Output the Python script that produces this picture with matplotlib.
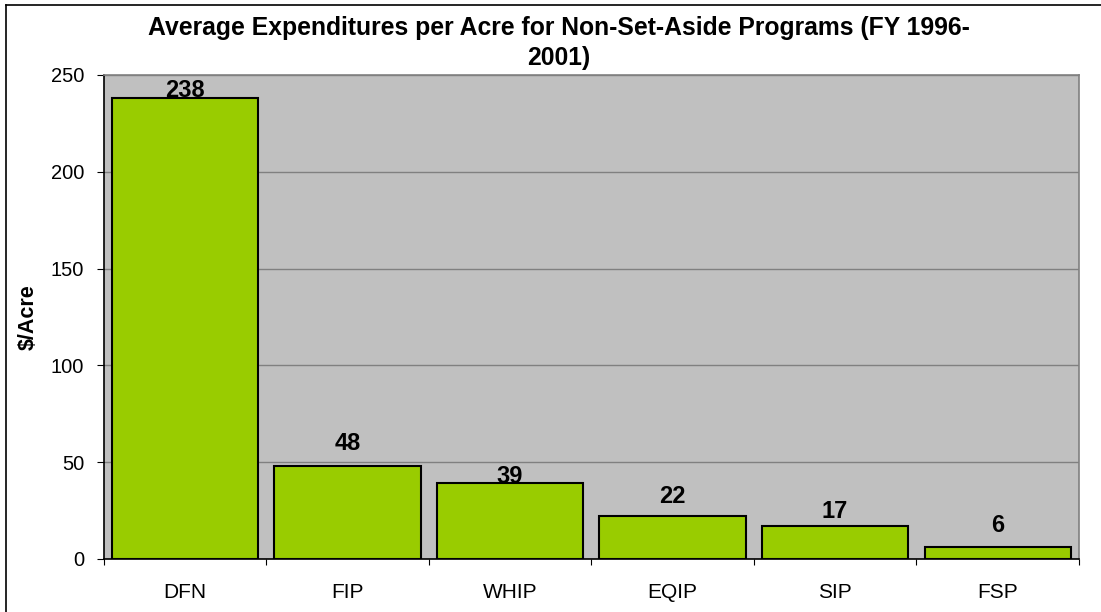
import matplotlib
matplotlib.use("Agg")
import matplotlib.pyplot as plt
from matplotlib.lines import Line2D
import numpy as np

plt.rcParams["font.family"] = ["Liberation Sans", "DejaVu Sans"]

# ── data ───────────────────────────────────────────────────────
programs = ["DFN", "FIP", "WHIP", "EQIP", "SIP", "FSP"]
cost_per_acre = [238, 48, 39, 22, 17, 6]
yticks = [0, 50, 100, 150, 200, 250]

# label gap above each bar (points) - mimics the Excel placement
label_gap = [0.7, 11.5, 0.0, 10.0, 5.8, 10.8]

BAR = "#99CC00"
PLOT_BG = "#C0C0C0"
GRID = "#808080"

fig = plt.figure(figsize=(11.01, 6.12), dpi=100)
fig.patch.set_facecolor("white")
ax = fig.add_axes([103.5 / 1101, 1 - 559 / 612, 975.5 / 1101, 484 / 612])
ax.set_facecolor(PLOT_BG)

x = np.arange(len(programs))
ax.bar(x, cost_per_acre, width=0.9, color=BAR, edgecolor="black",
       linewidth=1.5, zorder=3)

for xi, v, g in zip(x, cost_per_acre, label_gap):
    ax.annotate(str(v), (xi, v), xytext=(0, g), textcoords="offset points",
                ha="center", va="baseline", fontsize=17, fontweight="bold",
                zorder=4)

ax.set_xlim(-0.5, len(programs) - 0.5)
ax.set_ylim(0, 250)
ax.set_yticks(yticks)
ax.yaxis.grid(True, color=GRID, linewidth=1.0, zorder=0)
ax.set_axisbelow(True)

ax.set_xticks(x)
ax.set_xticklabels(programs, fontsize=15)
ax.set_xticks(np.arange(-0.5, len(programs)), minor=True)
ax.tick_params(axis="x", which="major", length=0, pad=17)
ax.tick_params(axis="x", which="minor", length=4.5, width=0.8, color="black")
ax.tick_params(axis="y", length=5, width=0.8, pad=9, labelsize=14.5)

for sp in ax.spines.values():
    sp.set_edgecolor(GRID)
    sp.set_linewidth(1.2)
ax.spines["left"].set_edgecolor("black")
ax.spines["bottom"].set_edgecolor("black")

ax.set_ylabel("$/Acre", fontsize=15.5, fontweight="bold")
ax.yaxis.set_label_coords(-0.066, 0.5)

fig.text(559 / 1101, 1 - 43 / 612,
         "Average Expenditures per Acre for Non-Set-Aside Programs (FY 1996-\n2001)",
         ha="center", va="center", fontsize=17.8, fontweight="bold",
         linespacing=1.35)

# outer chart frame (cropped on right and bottom in the original)
fig.add_artist(Line2D([6 / 1101, 6 / 1101], [0, 1 - 5 / 612],
                      transform=fig.transFigure, color="black", linewidth=1.2))
fig.add_artist(Line2D([6 / 1101, 1], [1 - 5 / 612, 1 - 5 / 612],
                      transform=fig.transFigure, color="black", linewidth=1.2))

fig.savefig("out.png", dpi=100)
